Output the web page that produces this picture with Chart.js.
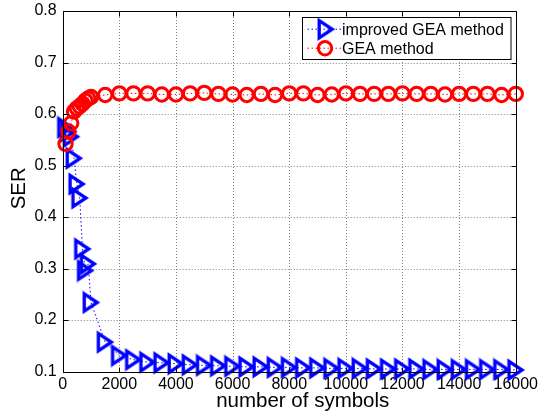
<!DOCTYPE html>
<html>
<head>
<meta charset="utf-8">
<script src="https://cdn.jsdelivr.net/npm/chart.js@4/dist/chart.umd.min.js"></script>
<style>
  html, body { margin: 0; padding: 0; background: #fff; }
  #c { display: block; }
</style>
</head>
<body>
<canvas id="c" width="543" height="418"></canvas>
<script>
// Symbol counts used in the simulation
const symbols = [100, 200, 300, 400, 500, 600, 700, 800, 900, 1000,
  1500, 2000, 2500, 3000, 3500, 4000, 4500, 5000, 5500, 6000,
  6500, 7000, 7500, 8000, 8500, 9000, 9500, 10000, 10500, 11000,
  11500, 12000, 12500, 13000, 13500, 14000, 14500, 15000, 15500, 16000];

// Symbol error rate, improved GEA method
const serImproved = [0.574, 0.566, 0.556, 0.514, 0.464, 0.437, 0.338, 0.296, 0.309, 0.234,
  0.157, 0.131, 0.123, 0.118, 0.117, 0.115, 0.113, 0.112, 0.111, 0.110,
  0.109, 0.109, 0.108, 0.108, 0.107, 0.107, 0.106, 0.106, 0.106, 0.105,
  0.105, 0.105, 0.105, 0.104, 0.104, 0.104, 0.104, 0.104, 0.104, 0.103];

// Symbol error rate, GEA method
const serGEA = [0.542, 0.566, 0.582, 0.605, 0.611, 0.615, 0.620, 0.626, 0.630, 0.633,
  0.637, 0.640, 0.640, 0.640, 0.638, 0.638, 0.640, 0.641, 0.639, 0.638,
  0.637, 0.639, 0.637, 0.640, 0.640, 0.637, 0.638, 0.640, 0.639, 0.639,
  0.639, 0.640, 0.639, 0.639, 0.638, 0.639, 0.639, 0.639, 0.637, 0.639];

const xTicks = [0, 2000, 4000, 6000, 8000, 10000, 12000, 14000, 16000];
const yTicks = [0.1, 0.2, 0.3, 0.4, 0.5, 0.6, 0.7, 0.8];

const seriesLabels = ['improved GEA method', 'GEA method'];
const xTitle = 'number of symbols';
const yTitle = 'SER';

const FONT = '"Liberation Sans", Arial, Helvetica, sans-serif';
const BLUE = '#0000ff';
const RED = '#ff0000';

// Open right-pointing triangle marker
function triangleMarker(color) {
  const c = document.createElement('canvas');
  c.width = 22; c.height = 24;
  const g = c.getContext('2d');
  g.strokeStyle = color;
  g.lineWidth = 3.3;
  g.lineJoin = 'miter';
  g.beginPath();
  g.moveTo(4.2, 3.4);
  g.lineTo(17.2, 12);
  g.lineTo(4.2, 20.6);
  g.closePath();
  g.stroke();
  return c;
}
const triImg = triangleMarker(BLUE);

// Grid, inward ticks, box, axis titles and the legend
const axesDecor = {
  id: 'axesDecor',
  beforeDatasetsDraw(chart) {
    const { ctx, chartArea: a, scales: { x, y } } = chart;
    ctx.save();
    ctx.strokeStyle = '#808080';
    ctx.lineWidth = 1;
    ctx.setLineDash([1, 2]);
    xTicks.forEach(v => {
      if (v <= x.min || v >= x.max) return;
      const px = Math.round(x.getPixelForValue(v)) + 0.5;
      ctx.beginPath(); ctx.moveTo(px, a.top); ctx.lineTo(px, a.bottom); ctx.stroke();
    });
    yTicks.forEach(v => {
      if (v <= y.min + 1e-9 || v >= y.max - 1e-9) return;
      const py = Math.round(y.getPixelForValue(v)) + 0.5;
      ctx.beginPath(); ctx.moveTo(a.left, py); ctx.lineTo(a.right, py); ctx.stroke();
    });
    ctx.restore();
  },
  afterDatasetsDraw(chart) {
    const { ctx, chartArea: a, scales: { x, y } } = chart;
    ctx.save();
    ctx.strokeStyle = '#000';
    ctx.lineWidth = 1;
    ctx.setLineDash([]);
    const L = Math.round(a.left) + 0.5, R = Math.round(a.right) + 0.5;
    const T = Math.round(a.top) + 0.5, B = Math.round(a.bottom) + 0.5;
    const tl = 5;
    xTicks.forEach(v => {
      const px = Math.round(x.getPixelForValue(v)) + 0.5;
      ctx.beginPath();
      ctx.moveTo(px, B); ctx.lineTo(px, B - tl);
      ctx.moveTo(px, T); ctx.lineTo(px, T + tl);
      ctx.stroke();
    });
    yTicks.forEach(v => {
      const py = Math.round(y.getPixelForValue(v)) + 0.5;
      ctx.beginPath();
      ctx.moveTo(L, py); ctx.lineTo(L + tl, py);
      ctx.moveTo(R, py); ctx.lineTo(R - tl, py);
      ctx.stroke();
    });
    ctx.strokeRect(L, T, R - L, B - T);

    // axis titles
    ctx.fillStyle = '#000';
    ctx.font = '20.5px ' + FONT;
    ctx.textAlign = 'center';
    ctx.textBaseline = 'alphabetic';
    ctx.fillText(xTitle, (a.left + a.right) / 2 + 13.5, 406.5);
    ctx.save();
    ctx.translate(19.5, (a.top + a.bottom) / 2 - 3);
    ctx.rotate(-Math.PI / 2);
    ctx.textBaseline = 'middle';
    ctx.fillText(yTitle, 0, 0);
    ctx.restore();

    // legend
    const bw = 208.5, bh = 42;
    const bx = Math.round(a.right - 5 - bw) + 0.5, by = Math.round(a.top + 6) + 0.5;
    ctx.fillStyle = '#fff';
    ctx.fillRect(bx, by, bw, bh);
    ctx.strokeRect(bx, by, bw, bh);
    const entries = [
      { ds: chart.data.datasets[1], dy: 11.7 },
      { ds: chart.data.datasets[0], dy: 30.7 }
    ];
    ctx.font = '16px ' + FONT;
    ctx.textAlign = 'left';
    ctx.textBaseline = 'middle';
    entries.forEach(({ ds, dy }) => {
      const ey = by + dy;
      ctx.save();
      ctx.strokeStyle = ds.borderColor;
      ctx.lineWidth = 1;
      ctx.setLineDash(ds.borderDash);
      ctx.beginPath(); ctx.moveTo(bx + 5, ey); ctx.lineTo(bx + 39, ey); ctx.stroke();
      ctx.restore();
      const mx = bx + 22.5;
      if (ds.pointStyle === 'circle') {
        ctx.save();
        ctx.strokeStyle = ds.pointBorderColor;
        ctx.lineWidth = ds.pointBorderWidth;
        ctx.beginPath(); ctx.arc(mx, ey, ds.pointRadius, 0, Math.PI * 2); ctx.stroke();
        ctx.restore();
      } else {
        ctx.drawImage(ds.pointStyle, mx - ds.pointStyle.width / 2 + 1, ey - ds.pointStyle.height / 2);
      }
      ctx.fillStyle = '#000';
      ctx.fillText(ds.label, bx + 39.5, ey + 1);
    });
    ctx.restore();
  }
};

const toPoints = vals => symbols.map((s, i) => ({ x: s, y: vals[i] }));

new Chart(document.getElementById('c'), {
  type: 'line',
  data: {
    datasets: [
      {
        label: seriesLabels[1],
        data: toPoints(serGEA),
        borderColor: RED,
        borderWidth: 1,
        borderDash: [1.5, 2.5],
        pointStyle: 'circle',
        pointRadius: 6.7,
        pointBorderWidth: 3,
        pointBorderColor: RED,
        pointBackgroundColor: 'rgba(0,0,0,0)',
        tension: 0,
        fill: false,
        clip: false,
        order: 1
      },
      {
        label: seriesLabels[0],
        data: toPoints(serImproved),
        borderColor: BLUE,
        borderWidth: 1,
        borderDash: [1.5, 2.5],
        pointStyle: triImg,
        pointRadius: 10,
        tension: 0,
        fill: false,
        clip: false,
        order: 2
      }
    ]
  },
  options: {
    responsive: false,
    animation: false,
    devicePixelRatio: 1,
    layout: { padding: { left: 0, right: 23, top: 9, bottom: 0 } },
    plugins: { legend: { display: false }, tooltip: { enabled: false } },
    scales: {
      x: {
        type: 'linear',
        min: 0, max: 16000,
        afterBuildTicks: s => { s.ticks = xTicks.map(v => ({ value: v })); },
        afterFit: s => { s.height = 46.5; },
        grid: { display: false, drawTicks: false, tickLength: 0 },
        border: { display: false },
        ticks: {
          autoSkip: false, maxRotation: 0, padding: 5, color: '#000',
          font: { family: FONT, size: 16, lineHeight: 1 },
          callback: v => String(v)
        }
      },
      y: {
        type: 'linear',
        min: 0.1, max: 0.8,
        afterBuildTicks: s => { s.ticks = yTicks.map(v => ({ value: v })); },
        afterFit: s => { s.width = 62.7; },
        grid: { display: false, drawTicks: false, tickLength: 0 },
        border: { display: false },
        ticks: {
          autoSkip: false, padding: 6, color: '#000',
          font: { family: FONT, size: 16, lineHeight: 0.5 },
          callback: v => Number(v).toFixed(1)
        }
      }
    }
  },
  plugins: [axesDecor]
});
</script>
</body>
</html>
